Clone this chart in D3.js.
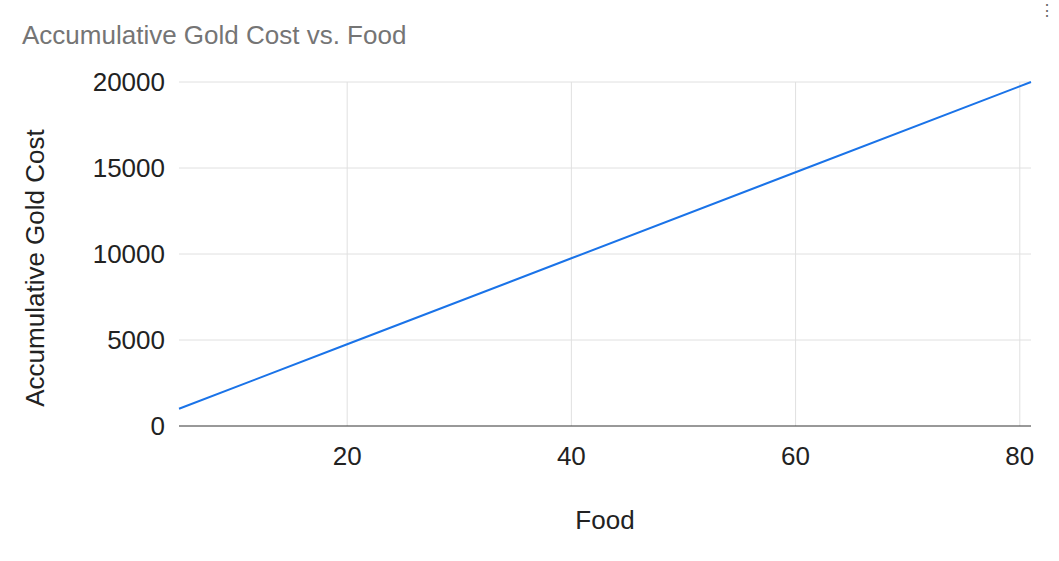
<!DOCTYPE html>
<html><head><meta charset="utf-8">
<script src="https://cdn.jsdelivr.net/npm/d3@7/dist/d3.min.js"></script>
<style>body{margin:0;background:#fff;font-family:Arial,"Liberation Sans",sans-serif}</style>
</head><body>
<svg id="c" width="1059" height="561"></svg>
<script>
const food = [5, 20, 40, 60, 81];
const cost = [1000, 4750, 9750, 14750, 20000];
const xTicks = [20, 40, 60, 80];
const yTicks = [0, 5000, 10000, 15000, 20000];

const svg = d3.select("#c");
const L = 179, R = 1031, T = 82, B = 426;
const x = d3.scaleLinear().domain([5, 81]).range([L, R]);
const y = d3.scaleLinear().domain([0, 20000]).range([B, T]);

svg.append("text").attr("x", 22).attr("y", 44).attr("fill", "#757575")
  .attr("font-size", 26).text("Accumulative Gold Cost vs. Food");

const g = svg.append("g");
g.selectAll(".vg").data(xTicks).join("line")
  .attr("x1", d => x(d)).attr("x2", d => x(d)).attr("y1", T).attr("y2", B)
  .attr("stroke", "#e0e0e0");
g.selectAll(".hg").data(yTicks.filter(d => d > 0)).join("line")
  .attr("x1", L).attr("x2", R).attr("y1", d => y(d)).attr("y2", d => y(d))
  .attr("stroke", "#e0e0e0");
g.append("line").attr("x1", L).attr("x2", R).attr("y1", B).attr("y2", B).attr("stroke", "#333");

g.selectAll(".xl").data(xTicks).join("text")
  .attr("x", d => x(d)).attr("y", 465).attr("text-anchor", "middle")
  .attr("font-size", 26).attr("fill", "#222").text(d => d);
g.selectAll(".yl").data(yTicks).join("text")
  .attr("x", 165).attr("y", d => y(d) + 9).attr("text-anchor", "end")
  .attr("font-size", 26).attr("fill", "#222").text(d => d);

const pts = food.map((f, i) => [f, cost[i]]);
svg.append("path").datum(pts)
  .attr("d", d3.line().x(d => x(d[0])).y(d => y(d[1])))
  .attr("fill", "none").attr("stroke", "#1a73e8").attr("stroke-width", 2);

svg.append("text").attr("x", 605).attr("y", 529).attr("text-anchor", "middle")
  .attr("font-size", 26).attr("fill", "#222").text("Food");
svg.append("text").attr("transform", "translate(44,268) rotate(-90)")
  .attr("text-anchor", "middle").attr("font-size", 26).attr("fill", "#222")
  .text("Accumulative Gold Cost");
svg.append("text").attr("x", 1047).attr("y", 16).attr("text-anchor", "middle")
  .attr("font-size", 16).attr("fill", "#666").text("⋮");
</script>
</body></html>
